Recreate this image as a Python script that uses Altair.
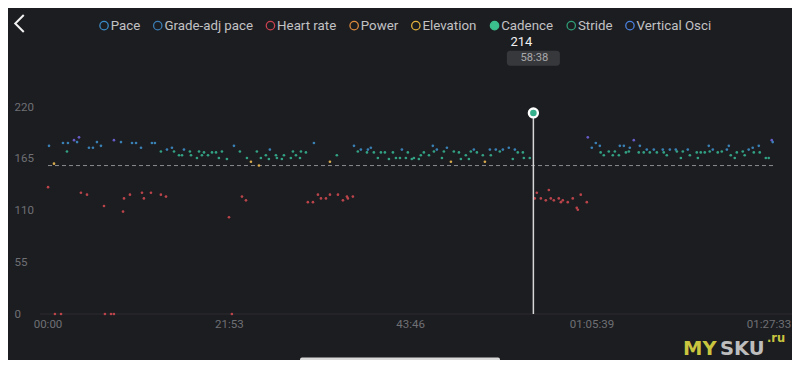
import altair as alt
import pandas as pd

# ---- data (elapsed seconds, cadence spm) ----
seg1_t = [4, 11, 47, 54, 98, 112, 141, 148, 192, 214, 228, 242, 286, 300, 329, 358, 387, 409, 416, 460,
          481, 481, 532, 547, 554, 597, 612, 641, 677, 684, 698, 749, 756, 778, 821, 821, 858, 865, 901, 916,
          952, 974, 988, 1031, 1039, 1082, 1097, 1118, 1133, 1162, 1191, 1220, 1241, 1263, 1299, 1314, 1335,
          1350, 1393, 1408, 1437, 1444, 1473, 1516, 1531, 1545, 1581, 1603]
seg1_v = [135, 179, 160, 0, 0, 182, 173, 182, 185, 183, 188, 129, 127, 177, 177, 183, 179, 115, 0, 0,
          0, 185, 183, 109, 123, 127, 182, 182, 177, 129, 123, 129, 182, 182, 173, 127, 125, 175, 177, 173,
          169, 169, 175, 173, 169, 166, 173, 169, 172, 169, 172, 172, 166, 173, 165, 103, 0,
          179, 173, 125, 121, 166, 162, 173, 158, 166, 169, 165]
seg2_t = [1610, 1654, 1661, 1697, 1712, 1762, 1777, 1799, 1828, 1835, 1871, 1885, 1922, 1929, 1958, 1980,
          2016, 2045, 2045, 2095, 2103, 2139, 2168, 2175, 2211, 2219, 2247, 2269, 2313, 2320, 2341, 2363,
          2392, 2414, 2443, 2472, 2501, 2523, 2552, 2566, 2595, 2609, 2638, 2653, 2689, 2703, 2725, 2762,
          2790, 2798, 2819, 2856, 2870, 2892, 2921, 2942, 2979, 2993, 3029, 3051, 3065, 3087, 3109, 3152,
          3167, 3203, 3210, 3246, 3275, 3297, 3340, 3369, 3384, 3405, 3442, 3449, 3492]
seg2_v = [175, 169, 166, 165, 169, 166, 173, 169, 166, 173, 172, 119, 119, 182, 127, 123,
          123, 162, 127, 169, 127, 121, 125, 123, 125, 179, 173, 175, 172, 175, 177, 172,
          166, 172, 172, 165, 172, 166, 166, 175, 166, 172, 165, 166, 165, 169, 172, 169,
          179, 173, 175, 166, 173, 177, 162, 173, 172, 165, 169, 165, 173, 175, 172, 169,
          162, 175, 169, 175, 173, 175, 177, 165, 175, 172, 172, 166, 166]
seg3_t = [3528, 3543, 3572, 3608, 3630, 3644, 3666, 3702, 3717, 3731, 3767, 3803, 3832, 3840, 3861, 3905,
          3912, 3941, 3970, 3999, 4005, 4028, 4064, 4093, 4108, 4137, 4144, 4173, 4188, 4209, 4216, 4245,
          4281, 4289, 4317, 4339, 4361, 4390, 4412, 4455, 4462, 4484, 4506, 4549, 4557, 4586, 4600, 4636,
          4651, 4701, 4709, 4730, 4759, 4788, 4795, 4817, 4853, 4882, 4919, 4933, 4947, 4976, 4991, 5034,
          5048, 5077, 5106, 5114, 5150, 5157, 5201, 5222, 5244, 5251]
seg3_v = [123, 129, 123, 121, 132, 123, 121, 123, 119, 121, 119, 123, 113, 111, 127, 119,
          188, 177, 182, 179, 172, 169, 173, 169, 173, 169, 179, 179, 172, 173, 177, 185,
          172, 179, 172, 175, 172, 175, 172, 175, 172, 169, 175, 175, 173, 166, 173, 175,
          169, 172, 166, 172, 172, 179, 173, 175, 172, 173, 175, 179, 169, 166, 172, 173,
          169, 175, 177, 172, 179, 172, 166, 166, 185, 183]

duration_s = 5253
tick_seconds = [0, 1313, 2626, 3939, 5253]
y_ticks = [0, 55, 110, 165, 220]
avg_cadence = [158]
cursor_t = [3518]
cursor_v = [214]

zone_breaks = [153, 164, 174, 184]
zone_colors = ["#c4474d", "#e3b24e", "#34a98a", "#3b86be", "#6c5fd2"]

legend_names = ["Pace", "Grade-adj pace", "Heart rate", "Power", "Elevation", "Cadence", "Stride", "Vertical Osci"]
legend_stroke = ["#3a8bc8", "#3a7db5", "#c9404f", "#de8a3e", "#e3b23a", "#3cbf8e", "#2f9e76", "#4a82e0"]
legend_fill = ["transparent"] * 5 + ["#3cbf8e"] + ["transparent"] * 2

BG = "#1c1d21"

df = pd.DataFrame({"t": seg1_t + seg2_t + seg3_t, "v": seg1_v + seg2_v + seg3_v})
cur = pd.DataFrame({"t": cursor_t, "v": cursor_v})
avg = pd.DataFrame({"v": avg_cadence})

X0, Y0 = 47.5, 107.3          # page position of plot origin
W, H = 725.5, 206.7


def px(x):
    return x - X0


def py(y):
    return y - Y0


xscale = alt.Scale(domain=[0, duration_s], nice=False, zero=False)
yscale = alt.Scale(domain=[0, 220], nice=False)

xaxis = alt.Axis(values=tick_seconds, title=None, grid=False, domain=False, ticks=False, tickSize=0,
                 labelFlush=False, labelOverlap=False, labelColor="#6f7074", labelFontSize=11.5,
                 labelFont="Roboto", labelPadding=4.5,
                 labelOffset={"condition": {"test": "datum.value > 5000", "value": -4.5}, "value": 0},
                 labelExpr="datum.value < 3600 ? utcFormat(datum.value*1000, '%M:%S') : utcFormat(datum.value*1000, '%H:%M:%S')")
yaxis = alt.Axis(values=y_ticks, title=None, grid=False, domain=False, ticks=False, tickSize=0,
                 labelAlign="left", labelPadding=33.5, labelColor="#6f7074", labelFontSize=11.5,
                 labelFont="Roboto")

dots = alt.Chart(df).mark_circle(size=7, opacity=0.95).encode(
    x=alt.X("t:Q", scale=xscale, axis=xaxis),
    y=alt.Y("v:Q", scale=yscale, axis=yaxis),
    color=alt.Color("v:Q", scale=alt.Scale(type="threshold", domain=zone_breaks, range=zone_colors), legend=None),
)

baseline = alt.Chart(avg).mark_rule(color="#2a2b30", strokeWidth=1).encode(
    y=alt.datum(0), x=alt.value(px(40)), x2=alt.value(px(800)))

avg_line = alt.Chart(avg).mark_rule(color="#8a8b8f", strokeWidth=1, strokeDash=[4, 3]).encode(
    y=alt.Y("v:Q", scale=yscale))

cursor_rule = alt.Chart(cur).mark_rule(color="#d6d6d6", strokeWidth=1.5).encode(
    x=alt.X("t:Q", scale=xscale), y=alt.Y("v:Q", scale=yscale), y2=alt.datum(0))

cursor_pt = alt.Chart(cur).mark_point(filled=True, shape="circle", size=80, fill="#35b08c",
                                      stroke="white", strokeWidth=2.4, opacity=1).encode(
    x=alt.X("t:Q", scale=xscale), y=alt.Y("v:Q", scale=yscale))

tip_box = alt.Chart(cur).mark_rect(color="#37383c", cornerRadius=3, xOffset=-26.5, x2Offset=26.5).encode(
    x=alt.X("t:Q", scale=xscale), x2="t:Q", y=alt.value(py(50.7)), y2=alt.value(py(65.7)))

tip_val = alt.Chart(cur).mark_text(color="#f0f0f0", fontSize=13, font="Roboto", dx=-12,
                                   baseline="middle").encode(
    x=alt.X("t:Q", scale=xscale), y=alt.value(py(42.3)), text="v:Q")

tip_time = alt.Chart(cur).transform_calculate(
    lab="utcFormat(datum.t*1000, '%M:%S')"
).mark_text(color="#a9a9ab", fontSize=11.2, font="Roboto", baseline="middle", dx=1).encode(
    x=alt.X("t:Q", scale=xscale), y=alt.value(py(58.4)), text="lab:N")

leg_cfg = alt.Legend(orient="none", legendX=49.9, legendY=-88.6, direction="horizontal", title=None,
                     symbolType="circle", symbolSize=70, symbolStrokeWidth=1.3, symbolOpacity=1,
                     labelFont="Roboto", labelFontSize=13.3, labelColor="#c2c2c4", labelOffset=0,
                     columnPadding=9.7, padding=0, labelLimit=0)
legend_layer = alt.Chart(pd.DataFrame({"metric": legend_names})).mark_circle(opacity=0, size=70).encode(
    stroke=alt.Stroke("metric:N", scale=alt.Scale(domain=legend_names, range=legend_stroke), legend=leg_cfg),
    fill=alt.Fill("metric:N", scale=alt.Scale(domain=legend_names, range=legend_fill), legend=leg_cfg),
)

check = alt.Chart(cur).mark_point(shape="M -0.55 0 L -0.15 0.4 L 0.55 -0.35", size=100, filled=False,
                                  stroke=BG, strokeWidth=1.6, opacity=1).encode(
    x=alt.value(px(493.5)), y=alt.value(py(24.3)))

chevron = alt.Chart(cur).mark_point(shape="M 0.5 -1 L -0.5 0 L 0.5 1", size=289, filled=False,
                                    stroke="#f2f2f2", strokeWidth=2, opacity=1).encode(
    x=alt.value(px(19.5)), y=alt.value(py(23.5)))

home_bar = alt.Chart(cur).mark_rule(color="#d9d9d9", strokeWidth=4, strokeCap="round").encode(
    x=alt.value(px(302)), x2=alt.value(px(498)), y=alt.value(py(359.5)))

wm_my = alt.Chart(cur).mark_text(text="MY", color="#c9c53f", font="DejaVu Sans", fontWeight="bold",
                                 fontSize=19.5, align="left", baseline="alphabetic").encode(
    x=alt.value(px(683)), y=alt.value(py(355)))
wm_sku = alt.Chart(cur).mark_text(text="SKU", color="#bdbdbd", font="DejaVu Sans", fontWeight="bold",
                                  fontSize=19.5, align="left", baseline="alphabetic").encode(
    x=alt.value(px(720)), y=alt.value(py(355)))
wm_ru = alt.Chart(cur).mark_text(text=".ru", color="#c9c53f", font="DejaVu Sans", fontWeight="bold",
                                 fontSize=11.5, align="left", baseline="alphabetic").encode(
    x=alt.value(px(767)), y=alt.value(py(341.5)))

chart = alt.layer(
    baseline, avg_line, dots, cursor_rule, cursor_pt, tip_box, tip_val, tip_time,
    legend_layer, check, chevron, home_bar, wm_my, wm_sku, wm_ru
).resolve_scale(color="independent").properties(
    width=W, height=H,
    autosize=alt.AutoSizeParams(type="none"),
    padding={"left": X0 - 8, "top": Y0 - 8, "right": 784 - (X0 - 8) - W, "bottom": 352 - (Y0 - 8) - H},
    background=BG,
).configure(font="Roboto").configure_view(strokeWidth=0, stroke="transparent")

chart.save("out.html", embed_options={"renderer": "svg", "actions": False})
